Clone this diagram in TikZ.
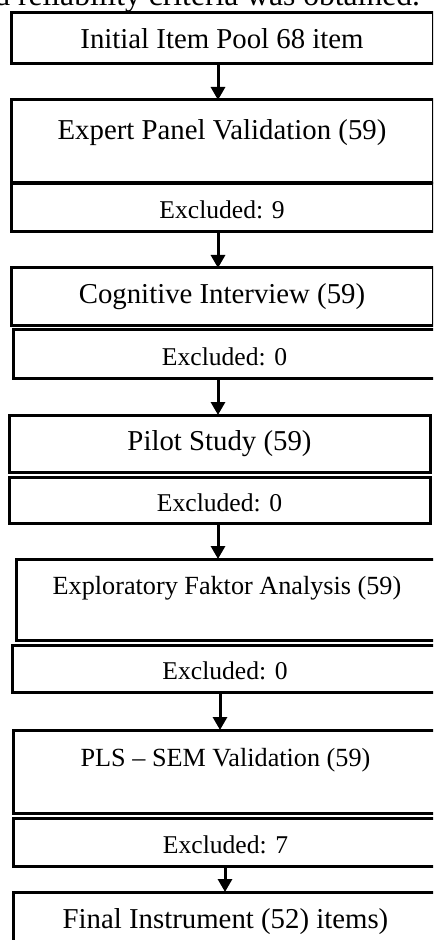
\documentclass[tikz,border=0pt]{standalone}
\usepackage{fontspec}
\setmainfont{Liberation Serif}
\usetikzlibrary{arrows.meta}

\tikzset{
  box/.style={draw, rectangle, line width=1.5pt, inner sep=0pt, outer sep=0pt, anchor=north west, font=\fontsize{14.4}{17}\selectfont},
  tallbox/.style={box, text height=9pt, text depth=11.3pt},
  smallbox/.style={box, font=\fontsize{13.1}{15}\selectfont, text height=9pt, text depth=14.3pt},
  exclbox/.style={box, font=\fontsize{12.8}{15}\selectfont, text height=11pt, text depth=0pt},
  flow/.style={line width=1.5pt, -{Triangle[width=7pt,length=6.5pt]}}
}

\begin{document}
\begin{tikzpicture}[x=0.5pt, y=-0.5pt]
\useasboundingbox (0,0) rectangle (433,940);
\clip (0,0) rectangle (433,940);

\node[anchor=base west, inner sep=0pt, font=\fontsize{15.8}{18}\selectfont] (lead) at (-6,6) {d reliability criteria was obtained.};

\node[box, minimum width=211pt, minimum height=25.5pt] (init) at (11,13) {Initial Item Pool 68 item};
\node[tallbox, minimum width=211pt, minimum height=41.5pt] (expert) at (11,100) {Expert Panel Validation (59)};
\node[exclbox, minimum width=211pt, minimum height=24pt] (exclA) at (11,184) {Excluded: 9};
\node[box, minimum width=211pt, minimum height=29pt] (cogn) at (11,268) {Cognitive Interview (59)};
\node[exclbox, minimum width=211.5pt, minimum height=24pt] (exclB) at (13,330) {Excluded: 0};
\node[box, minimum width=210.5pt, minimum height=28.5pt] (pilot) at (9,415) {Pilot Study (59)};
\node[exclbox, minimum width=210.5pt, minimum height=23pt] (exclC) at (9,477) {Excluded: 0};
\node[smallbox, minimum width=211pt, minimum height=40.5pt] (efa) at (16,559) {Exploratory Faktor Analysis (59)};
\node[exclbox, minimum width=213pt, minimum height=23.5pt] (exclD) at (12,645) {Excluded: 0};
\node[smallbox, minimum width=212.5pt, minimum height=41.5pt] (pls) at (13,730) {PLS – SEM Validation (59)};
\node[exclbox, minimum width=212.5pt, minimum height=24pt] (exclE) at (13,818) {Excluded: 7};
\node[box, minimum width=212.5pt, minimum height=30pt] (final) at (13,892) {Final Instrument (52) items)};

\draw[flow] ([xshift=-2pt]init.south) -- ([xshift=-2pt]init.south |- expert.north);
\draw[flow] ([xshift=-2pt]exclA.south) -- ([xshift=-2pt]exclA.south |- cogn.north);
\draw[flow] ([xshift=-3.25pt]exclB.south) -- ([xshift=-3.25pt]exclB.south |- pilot.north);
\draw[flow] ([xshift=-0.75pt]exclC.south) -- ([xshift=-0.75pt]exclC.south |- efa.north);
\draw[flow] ([xshift=-2.5pt]exclD.south) -- ([xshift=-2.5pt]exclD.south |- pls.north);
\draw[flow] ([xshift=-0.25pt]exclE.south) -- ([xshift=-0.25pt]exclE.south |- final.north);
\end{tikzpicture}
\end{document}
